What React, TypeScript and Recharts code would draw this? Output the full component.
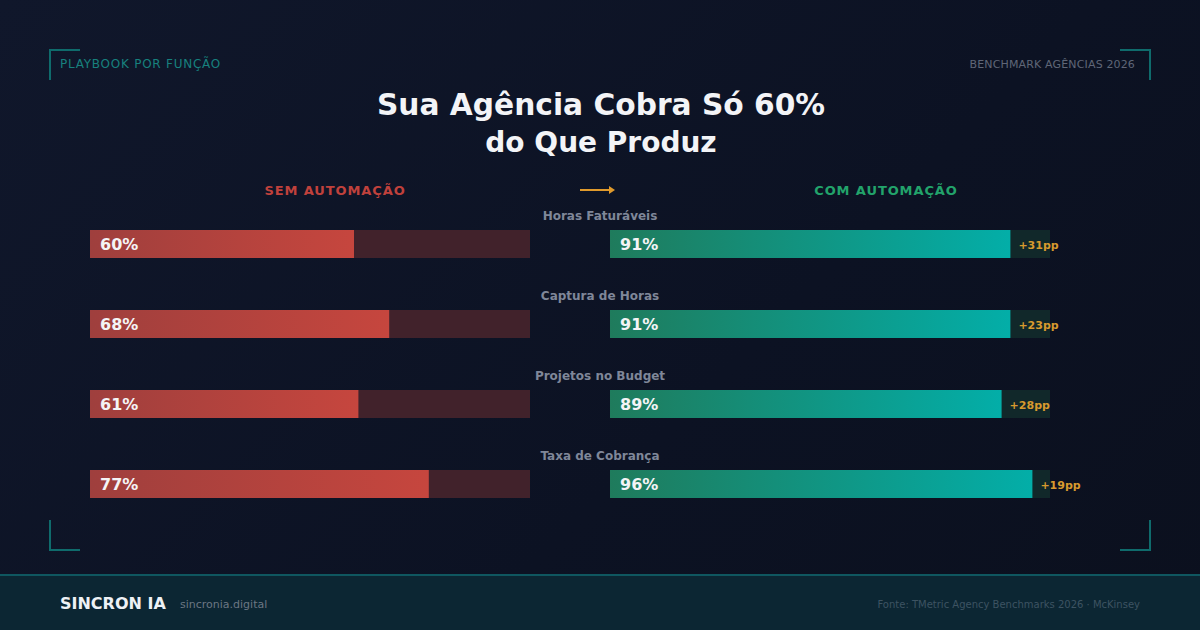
import { BarChart, Bar, XAxis, YAxis, LabelList } from "recharts";

const categories = ["Horas Faturáveis", "Captura de Horas", "Projetos no Budget", "Taxa de Cobrança"];
const semAutomacao = [60, 68, 61, 77];
const comAutomacao = [91, 91, 89, 96];

const rows = categories.map((name, i) => ({
  name,
  sem: semAutomacao[i],
  com: comAutomacao[i],
  delta: comAutomacao[i] - semAutomacao[i],
}));

const FONT = "'DejaVu Sans', sans-serif";
const W = 1200;
const H = 630;
const MARGIN_TOP = 204;
const MARGIN_BOTTOM = 106;

const ValueLabel = (props: any) => {
  const { x, y, height, value } = props;
  return (
    <text x={x + 10} y={y + height / 2 + 6} fill="#f4f4f6" fontSize={16} fontWeight="bold" fontFamily={FONT}>
      {value}%
    </text>
  );
};

const CategoryLabel = (props: any) => {
  const { x, y, index } = props;
  return (
    <text x={x - 10} y={y - 10} fill="#7f8799" fontSize={12} fontWeight="bold" fontFamily={FONT} textAnchor="middle">
      {rows[index].name}
    </text>
  );
};

const DeltaLabel = (props: any) => {
  const { x, y, width, height, index } = props;
  return (
    <text x={x + width + 8} y={y + height / 2 + 5} fill="#d89a2e" fontSize={11} fontWeight="bold" fontFamily={FONT}>
      +{rows[index].delta}pp
    </text>
  );
};

const Bracket = ({ d }: { d: string }) => <path d={d} stroke="#0f6b6c" strokeWidth={2} fill="none" />;

export default function App() {
  return (
    <div
      style={{
        position: "absolute",
        left: 0,
        top: 0,
        width: W,
        height: H,
        background: "linear-gradient(135deg, #10172b 0%, #0c1223 60%, #0b101e 100%)",
        fontFamily: FONT,
        overflow: "hidden",
      }}
    >
      <svg width={W} height={H} style={{ position: "absolute", left: 0, top: 0 }}>
        <Bracket d="M80 50 H50 V80" />
        <Bracket d="M1120 50 H1150 V80" />
        <Bracket d="M50 520 V550 H80" />
        <Bracket d="M1150 520 V550 H1120" />
        <text x={60} y={68} fill="#17817e" fontSize={12} letterSpacing={0.75} fontFamily={FONT}>
          PLAYBOOK POR FUNÇÃO
        </text>
        <text x={1135} y={68} fill="#5f6677" fontSize={11} letterSpacing={0.15} textAnchor="end" fontFamily={FONT}>
          BENCHMARK AGÊNCIAS 2026
        </text>
        <text x={601} y={115} fill="#f3f4f7" fontSize={29.7} fontWeight="bold" textAnchor="middle" fontFamily={FONT}>
          Sua Agência Cobra Só 60%
        </text>
        <text x={601} y={152} fill="#f3f4f7" fontSize={28} fontWeight="bold" textAnchor="middle" fontFamily={FONT}>
          do Que Produz
        </text>
        <text x={335} y={195} fill="#c0413c" fontSize={13} fontWeight="bold" letterSpacing={0.9} textAnchor="middle" fontFamily={FONT}>
          SEM AUTOMAÇÃO
        </text>
        <text x={886} y={195} fill="#22a36b" fontSize={13} fontWeight="bold" letterSpacing={0.9} textAnchor="middle" fontFamily={FONT}>
          COM AUTOMAÇÃO
        </text>
        <line x1={580} y1={190} x2={610} y2={190} stroke="#e09a2c" strokeWidth={2} />
        <path d="M609 186 L615 190 L609 194 Z" fill="#e09a2c" />
        <rect x={0} y={575} width={W} height={55} fill="#0c2633" />
        <line x1={0} y1={575} x2={W} y2={575} stroke="#0f5760" strokeWidth={2} />
        <text x={60} y={609} fill="#eef1f5" fontSize={16} fontWeight="bold" fontFamily={FONT}>
          SINCRON IA
        </text>
        <text x={180} y={608} fill="#6b7683" fontSize={11} fontFamily={FONT}>
          sincronia.digital
        </text>
        <text x={1140} y={608} fill="#3d5362" fontSize={10} textAnchor="end" fontFamily={FONT}>
          Fonte: TMetric Agency Benchmarks 2026 · McKinsey
        </text>
      </svg>

      <div style={{ position: "absolute", left: 0, top: 0 }}>
        <BarChart
          width={W}
          height={H}
          data={rows}
          layout="vertical"
          margin={{ left: 90, right: 670, top: MARGIN_TOP, bottom: MARGIN_BOTTOM }}
        >
          <defs>
            <linearGradient id="gradSem" x1="0" y1="0" x2="1" y2="0">
              <stop offset="0%" stopColor="#9f3f3d" />
              <stop offset="100%" stopColor="#c6463e" />
            </linearGradient>
          </defs>
          <XAxis type="number" domain={[0, 100]} hide />
          <YAxis type="category" dataKey="name" hide />
          <Bar
            dataKey="sem"
            barSize={28}
            fill="url(#gradSem)"
            background={{ fill: "#41222b" }}
            isAnimationActive={false}
          >
            <LabelList dataKey="sem" content={ValueLabel} />
          </Bar>
        </BarChart>
      </div>

      <div style={{ position: "absolute", left: 0, top: 0 }}>
        <BarChart
          width={W}
          height={H}
          data={rows}
          layout="vertical"
          margin={{ left: 610, right: 150, top: MARGIN_TOP, bottom: MARGIN_BOTTOM }}
        >
          <defs>
            <linearGradient id="gradCom" x1="0" y1="0" x2="1" y2="0">
              <stop offset="0%" stopColor="#1f7b5c" />
              <stop offset="100%" stopColor="#03aea8" />
            </linearGradient>
          </defs>
          <XAxis type="number" domain={[0, 100]} hide />
          <YAxis type="category" dataKey="name" hide />
          <Bar
            dataKey="com"
            barSize={28}
            fill="url(#gradCom)"
            background={{ fill: "#11282a" }}
            isAnimationActive={false}
          >
            <LabelList dataKey="com" content={ValueLabel} />
            <LabelList dataKey="name" content={CategoryLabel} />
            <LabelList dataKey="delta" content={DeltaLabel} />
          </Bar>
        </BarChart>
      </div>
    </div>
  );
}
